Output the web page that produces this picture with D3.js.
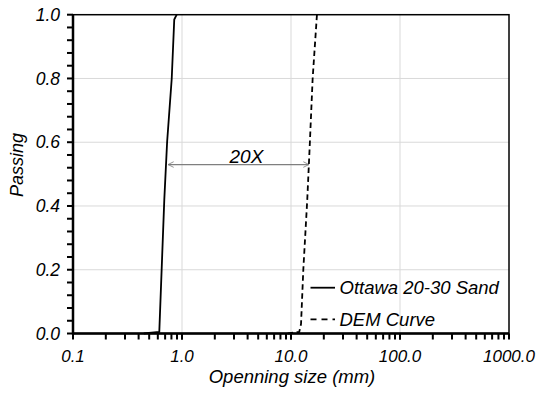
<!DOCTYPE html>
<html>
<head>
<meta charset="utf-8">
<script src="https://cdn.jsdelivr.net/npm/d3@7"></script>
<style>
  html, body { margin: 0; padding: 0; background: #fff; }
  svg { display: block; font-family: "Liberation Sans", Arial, Helvetica, sans-serif; font-style: italic; }
</style>
</head>
<body>
<svg id="chart" width="542" height="394"></svg>
<script>
// ---- data ----
const ottawaSize    = [0.446, 0.619, 0.688, 0.730, 0.805, 0.849, 0.894];
const ottawaPassing = [0.0,   0.005, 0.42,  0.60,  0.80,  0.985, 1.0];
const demSize       = [9.33, 11.9, 12.36, 12.97, 14.1, 14.9, 15.8, 17.3];
const demPassing    = [0.0,  0.005, 0.03, 0.20,  0.42, 0.60, 0.80, 1.0];
const seriesNames   = ["Ottawa 20-30 Sand", "DEM Curve"];
const xTickValues   = [0.1, 1, 10, 100, 1000];
const xTickLabels   = ["0.1", "1.0", "10.0", "100.0", "1000.0"];
const yTickValues   = [0, 0.2, 0.4, 0.6, 0.8, 1.0];
const yTickLabels   = ["0.0", "0.2", "0.4", "0.6", "0.8", "1.0"];
const arrowSizes    = [0.745, 14.6];
const arrowPassing  = 0.53;
const arrowText     = "20X";
const arrowTextSize = 3.9;
const xTitle = "Openning size (mm)";
const yTitle = "Passing";

// ---- layout ----
const svg = d3.select("#chart");
const L = 73, R = 509, T = 14.7, B = 333.5;
const x = d3.scaleLog().domain([0.1, 1000]).range([L, R]);
const y = d3.scaleLinear().domain([0, 1]).range([B, T]);

// grid
const g = svg.append("g");
g.selectAll(".vg").data(xTickValues.slice(1, -1)).join("line")
  .attr("x1", d => x(d)).attr("x2", d => x(d)).attr("y1", T).attr("y2", B)
  .attr("stroke", "#d9d9d9").attr("stroke-width", 1);
g.selectAll(".hg").data(yTickValues.slice(1, -1)).join("line")
  .attr("x1", L).attr("x2", R).attr("y1", d => y(d)).attr("y2", d => y(d))
  .attr("stroke", "#d9d9d9").attr("stroke-width", 1);

// minor tick values
const xMinor = [];
for (let e = -1; e < 3; e++) for (let k = 1; k <= 10; k++) xMinor.push(k * Math.pow(10, e));
const yMinor = d3.range(0, 26).map(i => i * 0.04);

// frame
svg.append("rect").attr("x", L).attr("y", T).attr("width", R - L).attr("height", B - T)
  .attr("fill", "none").attr("stroke", "#000").attr("stroke-width", 1.5);
svg.append("line").attr("x1", L).attr("x2", L).attr("y1", T).attr("y2", B + 1)
  .attr("stroke", "#000").attr("stroke-width", 2.5);
svg.append("line").attr("x1", L - 1).attr("x2", R).attr("y1", B).attr("y2", B)
  .attr("stroke", "#000").attr("stroke-width", 2.5);

// ticks (outward)
svg.append("g").selectAll("rect").data(xMinor).join("rect")
  .attr("x", d => x(d) - 1).attr("y", B).attr("width", 2).attr("height", 6)
  .attr("fill", "#000");
svg.append("g").selectAll("rect").data(yMinor).join("rect")
  .attr("x", L - 6).attr("y", d => y(d) - 1).attr("width", 6).attr("height", 2)
  .attr("fill", "#000");

// tick labels
svg.append("g").selectAll("text").data(xTickValues).join("text")
  .attr("x", d => x(d)).attr("y", 362).attr("text-anchor", "middle")
  .attr("font-size", 17).attr("fill", "#000").text((d, i) => xTickLabels[i]);
svg.append("g").selectAll("text").data(yTickValues).join("text")
  .attr("x", L - 13).attr("y", d => y(d)).attr("dy", "0.35em").attr("text-anchor", "end")
  .attr("font-size", 17.5).attr("fill", "#000").text((d, i) => yTickLabels[i]);

// curves
const line = d3.line().x(d => x(d[0])).y(d => y(d[1]));
svg.append("path").datum(d3.zip(ottawaSize, ottawaPassing)).attr("d", line)
  .attr("fill", "none").attr("stroke", "#000").attr("stroke-width", 1.8);
svg.append("path").datum(d3.zip(demSize, demPassing)).attr("d", line)
  .attr("fill", "none").attr("stroke", "#000").attr("stroke-width", 1.8)
  .attr("stroke-dasharray", "5.5,3.5");

// arrow annotation
const defs = svg.append("defs");
["s", "e"].forEach(id => {
  defs.append("marker").attr("id", "arr" + id).attr("viewBox", "0 0 10 10")
    .attr("refX", 9).attr("refY", 5).attr("markerWidth", 7).attr("markerHeight", 7)
    .attr("markerUnits", "userSpaceOnUse").attr("orient", "auto-start-reverse")
    .append("path").attr("d", "M1,1 L9,5 L1,9").attr("fill", "none")
    .attr("stroke", "#7f7f7f").attr("stroke-width", 1.2);
});
svg.append("line")
  .attr("x1", x(arrowSizes[0])).attr("x2", x(arrowSizes[1]))
  .attr("y1", y(arrowPassing)).attr("y2", y(arrowPassing))
  .attr("stroke", "#7f7f7f").attr("stroke-width", 1.2)
  .attr("marker-start", "url(#arrs)").attr("marker-end", "url(#arre)");
svg.append("text").attr("x", x(arrowTextSize)).attr("y", y(arrowPassing) - 2)
  .attr("text-anchor", "middle").attr("font-size", 19).text(arrowText);

// legend
const leg = svg.append("g");
seriesNames.forEach((name, i) => {
  const ly = 287.7 + i * 31.6;
  leg.append("line").attr("x1", 310.5).attr("x2", 335).attr("y1", ly).attr("y2", ly)
    .attr("stroke", "#000").attr("stroke-width", 1.8)
    .attr("stroke-dasharray", i === 1 ? "6,5" : null);
  leg.append("text").attr("x", 339.5).attr("y", ly).attr("dy", "0.35em")
    .attr("font-size", 18.5).text(name);
});

// titles
svg.append("text").attr("x", 292).attr("y", 382.5).attr("text-anchor", "middle")
  .attr("font-size", 18.5).text(xTitle);
svg.append("text").attr("transform", "translate(23,165) rotate(-90)")
  .attr("text-anchor", "middle").attr("font-size", 18).text(yTitle);
</script>
</body>
</html>
